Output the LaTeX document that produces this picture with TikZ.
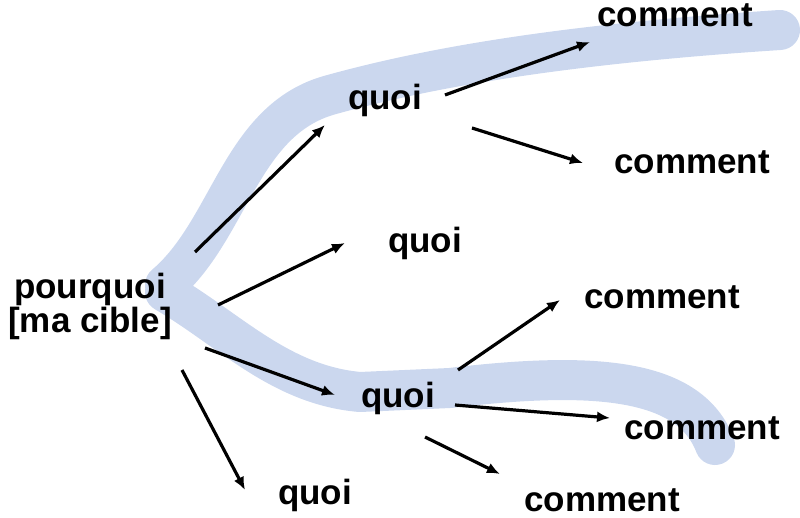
\documentclass[tikz,border=0pt]{standalone}
\usepackage{fontspec}
\setmainfont{Liberation Sans}
\usetikzlibrary{arrows.meta}
\begin{document}
\begin{tikzpicture}[x=1pt,y=-1pt,
  lbl/.style={font=\bfseries\fontsize{35}{38}\selectfont,inner sep=1pt,align=center},
  arr/.style={-{Latex[length=13pt,width=11pt]},line width=3.2pt},
  band/.style={line width=40pt,line cap=round,line join=round}]
\useasboundingbox (0,0) rectangle (800,518);
\definecolor{bandc}{HTML}{CBD7EE}
\draw[band,color=bandc] (165,285) .. controls (230,230) and (240,120) .. (330,95)
  .. controls (420,70) and (550,45) .. (780,30);
\draw[band,color=bandc] (165,292) .. controls (230,330) and (280,385) .. (360,392)
  -- (450,388) .. controls (600,370) and (690,380) .. (715,445);
\node[lbl] (p) at (90,306) {pourquoi\\[-4pt][ma cible]};
\node[lbl] (q1) at (385,100) {quoi};
\node[lbl] (c1) at (675,15) {comment};
\node[lbl] (c2) at (692,162) {comment};
\node[lbl] (q2) at (425,243) {quoi};
\node[lbl] (c3) at (662,297) {comment};
\node[lbl] (q3) at (398,398) {quoi};
\node[lbl] (c4) at (702,428) {comment};
\node[lbl] (q4) at (315,495) {quoi};
\node[lbl] (c5) at (602,500) {comment};
\coordinate (a1) at (195,252); \coordinate (b1) at (325,125);
\coordinate (a2) at (445,95); \coordinate (b2) at (590,42);
\coordinate (a3) at (472,128); \coordinate (b3) at (583,163);
\coordinate (a4) at (218,305); \coordinate (b4) at (345,243);
\coordinate (a5) at (458,370); \coordinate (b5) at (560,300);
\coordinate (a6) at (205,348); \coordinate (b6) at (335,395);
\coordinate (a7) at (455,405); \coordinate (b7) at (610,418);
\coordinate (a8) at (425,437); \coordinate (b8) at (500,474);
\coordinate (a9) at (182,370); \coordinate (b9) at (245,490);
\foreach \i in {1,...,9} \draw[arr] (a\i) -- (b\i);
\end{tikzpicture}
\end{document}
